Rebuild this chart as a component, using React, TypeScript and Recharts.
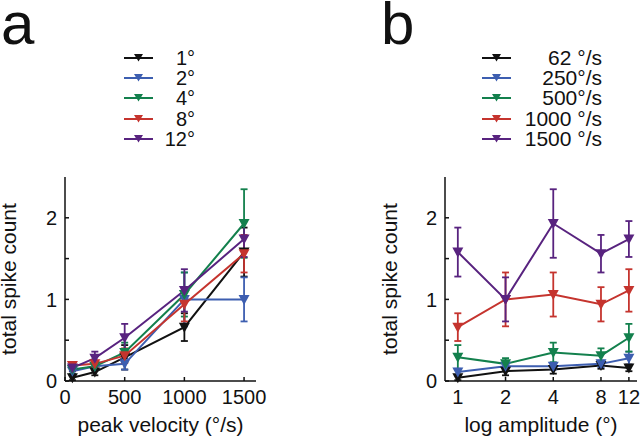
import { LineChart, Line, XAxis, YAxis, ErrorBar } from 'recharts'

// amplitude (deg) and peak velocity (deg/s) conditions
const amplitudes = [1, 2, 4, 8, 12]
const velocities = [62, 250, 500, 1000, 1500]
const amplitudeLabels = ['1°', '2°', '4°', '8°', '12°']
const velocityLabels = ['62 °/s', '250°/s', '500°/s', '1000 °/s', '1500 °/s']

// mean total spike count per velocity, across amplitudes 1,2,4,8,12
const mean62 = [0.04, 0.12, 0.14, 0.19, 0.16]
const mean250 = [0.11, 0.18, 0.18, 0.21, 0.28]
const mean500 = [0.29, 0.21, 0.35, 0.31, 0.53]
const mean1000 = [0.66, 1.0, 1.06, 0.94, 1.11]
const mean1500 = [1.58, 1.0, 1.93, 1.56, 1.74]

// error (sem) per velocity, same order
const sem62 = [0.03, 0.05, 0.05, 0.04, 0.04]
const sem250 = [0.04, 0.04, 0.04, 0.04, 0.08]
const sem500 = [0.15, 0.07, 0.12, 0.09, 0.17]
const sem1000 = [0.17, 0.33, 0.27, 0.21, 0.26]
const sem1500 = [0.3, 0.27, 0.42, 0.23, 0.22]

const yTicks = [0, 0.5, 1, 1.5, 2]
const xTicksA = [0, 500, 1000, 1500]
const xTicksB = [1, 2, 4, 8, 12]

const meanRows = [mean62, mean250, mean500, mean1000, mean1500]
const semRows = [sem62, sem250, sem500, sem1000, sem1500]

const colors = ['#111111', '#3d5eb0', '#13804d', '#c5342e', '#58237f']
const FONT = '"Liberation Sans", Arial, sans-serif'

// panel a: x = velocity, one line per amplitude
const dataA = velocities.map((v, i) => {
    const row: Record<string, number> = { x: v }
    amplitudes.forEach((_, j) => {
        row['m' + j] = meanRows[i][j]
        row['e' + j] = semRows[i][j]
    })
    return row
})

// panel b: x = amplitude, one line per velocity
const dataB = amplitudes.map((a, j) => {
    const row: Record<string, number> = { x: a }
    velocities.forEach((_, i) => {
        row['m' + i] = meanRows[i][j]
        row['e' + i] = semRows[i][j]
    })
    return row
})

function TriDot(props: any) {
    const { cx, cy, fill } = props
    if (cx == null || cy == null) return null
    return <polygon points={`${cx - 5.5},${cy - 4.5} ${cx + 5.5},${cy - 4.5} ${cx},${cy + 5.5}`} fill={fill} />
}

function LegendBlock({ labels, left, textRight, top, fontSize }: any) {
    return (
        <>
            {labels.map((label: string, i: number) => {
                const cy = top + i * 20.2
                return (
                    <div key={label}>
                        <svg style={{ position: 'absolute', left, top: cy - 6 }} width={30} height={12}>
                            <line x1={0} y1={6} x2={29} y2={6} stroke={colors[i]} strokeWidth={2} />
                            <polygon points="10,2 19,2 14.5,9.5" fill={colors[i]} />
                        </svg>
                        <div
                            style={{
                                position: 'absolute',
                                left: textRight - 120,
                                width: 120,
                                top: cy - 9,
                                lineHeight: '18px',
                                fontSize,
                                textAlign: 'right',
                                color: '#111',
                                whiteSpace: 'nowrap',
                            }}
                        >
                            {label}
                        </div>
                    </div>
                )
            })}
        </>
    )
}

const axisStroke = { stroke: '#111', strokeWidth: 1.5 }
const tickStyle = { fontSize: 20, fill: '#111', fontFamily: FONT }
const titleStyle = { fontSize: 21, fill: '#111', fontFamily: FONT }

function Panel({ data, xProps, xTitle, marginLeft, marginRight, yOffset }: any) {
    return (
        <LineChart
            width={320}
            height={279}
            data={data}
            margin={{ top: 17, right: marginRight, left: marginLeft, bottom: 0 }}
        >
            <XAxis
                dataKey="x"
                type="number"
                height={58}
                axisLine={axisStroke}
                tickLine={axisStroke}
                tickSize={-4}
                tickMargin={13}
                tick={tickStyle}
                interval={0}
                allowDataOverflow
                label={{ value: xTitle, position: 'insideBottom', offset: 7, style: titleStyle }}
                {...xProps}
            />
            <YAxis
                type="number"
                width={65}
                domain={[0, 2.5]}
                ticks={yTicks}
                interval={0}
                axisLine={axisStroke}
                tickLine={axisStroke}
                tickSize={-4}
                tickMargin={12}
                tick={tickStyle}
                tickFormatter={(v: number) => (v % 1 === 0 ? String(v) : '')}
                label={{
                    value: 'total spike count',
                    angle: -90,
                    position: 'insideLeft',
                    offset: yOffset,
                    style: { ...titleStyle, textAnchor: 'middle' },
                }}
            />
            {colors.map((c, k) => (
                <Line
                    key={k}
                    dataKey={'m' + k}
                    stroke={c}
                    strokeWidth={2}
                    dot={<TriDot fill={c} />}
                    activeDot={false}
                    isAnimationActive={false}
                >
                    <ErrorBar dataKey={'e' + k} width={3.5} stroke={c} strokeWidth={1.8} direction="y" />
                </Line>
            ))}
        </LineChart>
    )
}

export default function App() {
    return (
        <div
            style={{
                position: 'absolute',
                left: 0,
                top: 0,
                width: 640,
                height: 439,
                background: '#fff',
                fontFamily: FONT,
                overflow: 'hidden',
            }}
        >
            <div style={{ position: 'absolute', left: 1, top: 0, fontSize: 60, lineHeight: '48px', color: '#111' }}>a</div>
            <div style={{ position: 'absolute', left: 381, top: 0, fontSize: 60, lineHeight: '48px', color: '#111' }}>b</div>

            <LegendBlock labels={amplitudeLabels} left={124} textRight={195} top={58} fontSize={20} />
            <LegendBlock labels={velocityLabels} left={482} textRight={602} top={58} fontSize={21} />

            <div style={{ position: 'absolute', left: 0, top: 160 }}>
                <Panel
                    data={dataA}
                    xTitle="peak velocity (°/s)"
                    marginLeft={0}
                    marginRight={64}
                    yOffset={9}
                    xProps={{ domain: [0, 1600], ticks: xTicksA }}
                />
            </div>
            <div style={{ position: 'absolute', left: 320, top: 160 }}>
                <Panel
                    data={dataB}
                    xTitle="log amplitude (°)"
                    marginLeft={60}
                    marginRight={3}
                    yOffset={9.5}
                    xProps={{ scale: 'log', domain: [0.83, 13.5], ticks: xTicksB }}
                />
            </div>
        </div>
    )
}
